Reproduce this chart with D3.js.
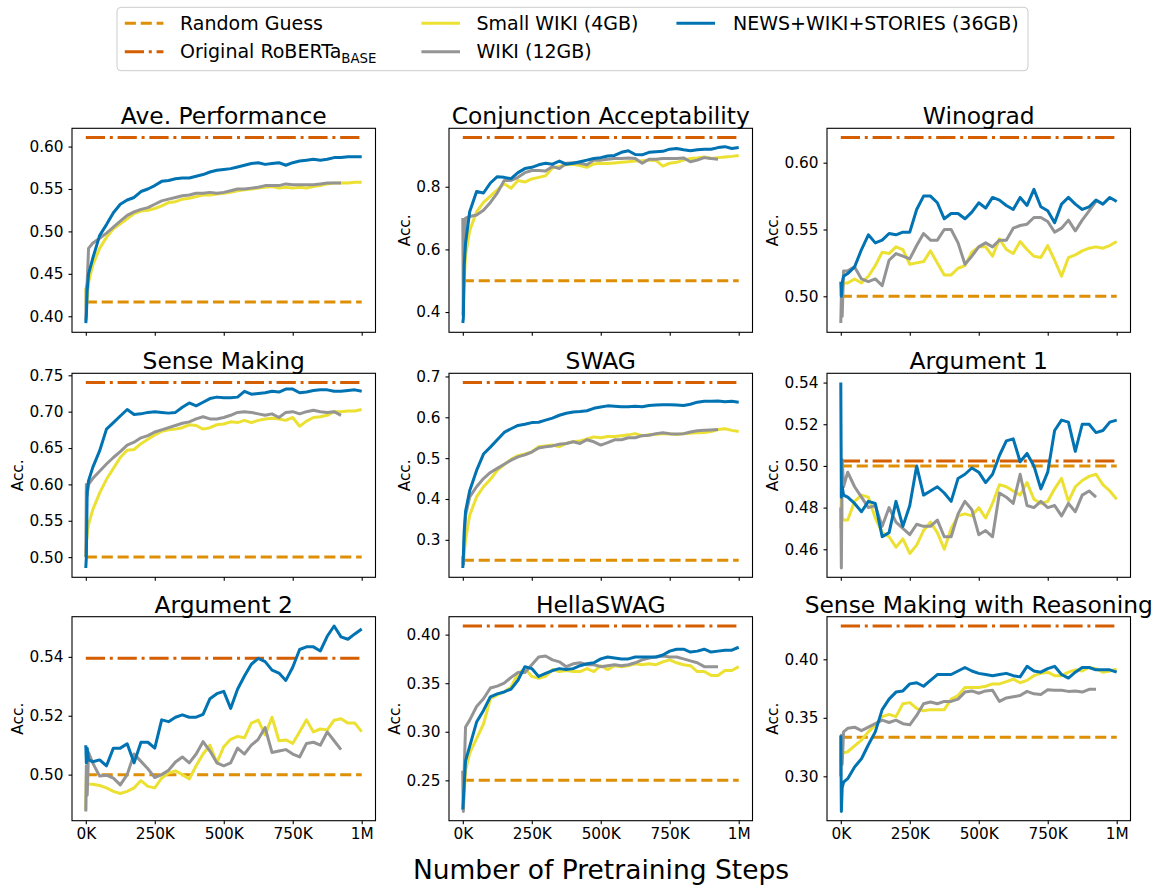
<!DOCTYPE html>
<html>
<head>
<meta charset="utf-8">
<script src="https://cdn.jsdelivr.net/npm/d3@7"></script>
<style>
  body { margin: 0; background: #fff; }
  svg { display: block; font-family: "DejaVu Sans", sans-serif; }
</style>
</head>
<body>
<svg id="chart" width="1159" height="887"></svg>
<script>
// ---------------- DATA ----------------
const stepsFull = [0, 2000, 5000, 10000, 25000, 50000, 75000, 100000, 125000, 150000, 175000, 200000, 225000, 250000, 275000, 300000, 325000, 350000, 375000, 400000, 425000, 450000, 475000, 500000, 525000, 550000, 575000, 600000, 625000, 650000, 675000, 700000, 725000, 750000, 775000, 800000, 825000, 850000, 875000, 900000, 925000, 950000, 975000, 1000000];
const stepsWiki = [0, 2000, 5000, 10000, 25000, 50000, 75000, 100000, 125000, 150000, 175000, 200000, 225000, 250000, 275000, 300000, 325000, 350000, 375000, 400000, 425000, 450000, 475000, 500000, 525000, 550000, 575000, 600000, 625000, 650000, 675000, 700000, 725000, 750000, 775000, 800000, 825000, 850000, 875000, 900000, 925000];

const xTickValues = [0, 250000, 500000, 750000, 1000000];
const xTickLabels = ["0K", "250K", "500K", "750K", "1M"];

const panelTitles = ["Ave. Performance", "Conjunction Acceptability", "Winograd", "Sense Making", "SWAG", "Argument 1", "Argument 2", "HellaSWAG", "Sense Making with Reasoning"];
const originalRoberta = [0.6106, 0.957, 0.6188, 0.740, 0.685, 0.5024, 0.5395, 0.4089, 0.4285];
const randomGuess = [0.4167, 0.5, 0.5, 0.5, 0.25, 0.5, 0.5, 0.25, 0.3333];

const yTicksAve = [0.40, 0.45, 0.50, 0.55, 0.60];
const yTicksConj = [0.4, 0.6, 0.8];
const yTicksWino = [0.50, 0.55, 0.60];
const yTicksSM = [0.50, 0.55, 0.60, 0.65, 0.70, 0.75];
const yTicksSwag = [0.3, 0.4, 0.5, 0.6, 0.7];
const yTicksArg1 = [0.46, 0.48, 0.50, 0.52, 0.54];
const yTicksArg2 = [0.50, 0.52, 0.54];
const yTicksHella = [0.25, 0.30, 0.35, 0.40];
const yTicksSMR = [0.30, 0.35, 0.40];
const yTickFormats = [".2f", ".1f", ".2f", ".2f", ".1f", ".2f", ".2f", ".2f", ".2f"];

// Ave. Performance
const aveNews = [0.392, 0.40, 0.43, 0.45, 0.468, 0.495, 0.508, 0.522, 0.532, 0.537, 0.540, 0.547, 0.550, 0.554, 0.559, 0.560, 0.562, 0.563, 0.563, 0.565, 0.567, 0.570, 0.572, 0.573, 0.574, 0.576, 0.578, 0.580, 0.581, 0.579, 0.580, 0.581, 0.578, 0.581, 0.583, 0.584, 0.585, 0.584, 0.585, 0.587, 0.587, 0.588, 0.588, 0.588];
const aveSmall = [0.433, 0.41, 0.42, 0.44, 0.46, 0.48, 0.493, 0.503, 0.509, 0.515, 0.521, 0.524, 0.525, 0.527, 0.530, 0.534, 0.535, 0.538, 0.539, 0.541, 0.543, 0.543, 0.544, 0.545, 0.546, 0.548, 0.549, 0.550, 0.551, 0.552, 0.553, 0.551, 0.552, 0.551, 0.552, 0.551, 0.553, 0.554, 0.556, 0.557, 0.557, 0.557, 0.558, 0.558];
const aveWiki = [0.395, 0.433, 0.44, 0.48, 0.486, 0.492, 0.498, 0.505, 0.512, 0.519, 0.523, 0.526, 0.528, 0.532, 0.536, 0.538, 0.540, 0.542, 0.543, 0.545, 0.545, 0.546, 0.545, 0.546, 0.548, 0.550, 0.550, 0.551, 0.552, 0.554, 0.554, 0.554, 0.556, 0.555, 0.555, 0.555, 0.555, 0.556, 0.557, 0.557, 0.557];

// Conjunction Acceptability
const conjNews = [0.365, 0.38, 0.55, 0.62, 0.72, 0.785, 0.78, 0.812, 0.832, 0.83, 0.826, 0.845, 0.858, 0.862, 0.87, 0.875, 0.872, 0.882, 0.872, 0.875, 0.88, 0.885, 0.89, 0.893, 0.898, 0.90, 0.91, 0.915, 0.903, 0.902, 0.91, 0.912, 0.913, 0.92, 0.922, 0.918, 0.915, 0.918, 0.92, 0.92, 0.925, 0.928, 0.922, 0.925];
const conjSmall = [0.39, 0.45, 0.5, 0.58, 0.66, 0.72, 0.75, 0.77, 0.79, 0.81, 0.795, 0.82, 0.815, 0.825, 0.83, 0.835, 0.86, 0.865, 0.87, 0.872, 0.868, 0.862, 0.873, 0.875, 0.874, 0.876, 0.878, 0.88, 0.882, 0.883, 0.885, 0.884, 0.866, 0.875, 0.878, 0.885, 0.89, 0.892, 0.895, 0.89, 0.893, 0.895, 0.897, 0.90];
const conjWiki = [0.70, 0.39, 0.60, 0.70, 0.705, 0.71, 0.725, 0.75, 0.78, 0.82, 0.82, 0.83, 0.845, 0.852, 0.852, 0.85, 0.865, 0.858, 0.875, 0.877, 0.875, 0.87, 0.885, 0.885, 0.888, 0.89, 0.89, 0.892, 0.89, 0.875, 0.888, 0.888, 0.89, 0.89, 0.89, 0.892, 0.88, 0.885, 0.893, 0.89, 0.888];

// Winograd
const winoNews = [0.511, 0.50, 0.51, 0.515, 0.517, 0.522, 0.535, 0.546, 0.54, 0.542, 0.547, 0.546, 0.548, 0.548, 0.565, 0.575, 0.575, 0.57, 0.558, 0.562, 0.562, 0.558, 0.563, 0.57, 0.566, 0.574, 0.572, 0.568, 0.565, 0.574, 0.568, 0.58, 0.567, 0.564, 0.555, 0.569, 0.574, 0.569, 0.565, 0.567, 0.572, 0.569, 0.574, 0.571];
const winoSmall = [0.50, 0.505, 0.505, 0.51, 0.51, 0.513, 0.51, 0.515, 0.523, 0.533, 0.532, 0.537, 0.535, 0.524, 0.525, 0.526, 0.534, 0.525, 0.516, 0.516, 0.521, 0.523, 0.533, 0.537, 0.537, 0.53, 0.543, 0.535, 0.532, 0.541, 0.535, 0.53, 0.529, 0.538, 0.527, 0.515, 0.529, 0.531, 0.534, 0.536, 0.537, 0.536, 0.538, 0.541];
const winoWiki = [0.48, 0.50, 0.485, 0.519, 0.519, 0.522, 0.513, 0.511, 0.513, 0.508, 0.527, 0.532, 0.53, 0.528, 0.538, 0.547, 0.542, 0.542, 0.55, 0.55, 0.54, 0.524, 0.53, 0.537, 0.54, 0.537, 0.542, 0.542, 0.551, 0.553, 0.554, 0.559, 0.559, 0.556, 0.548, 0.551, 0.557, 0.549, 0.557, 0.564, 0.571];

// Sense Making
const smNews = [0.485, 0.50, 0.59, 0.605, 0.623, 0.646, 0.676, 0.685, 0.694, 0.703, 0.696, 0.697, 0.699, 0.70, 0.699, 0.698, 0.699, 0.706, 0.712, 0.708, 0.713, 0.718, 0.72, 0.719, 0.719, 0.72, 0.728, 0.724, 0.725, 0.726, 0.728, 0.727, 0.731, 0.731, 0.726, 0.727, 0.729, 0.730, 0.730, 0.728, 0.728, 0.729, 0.730, 0.728];
const smSmall = [0.50, 0.52, 0.53, 0.545, 0.565, 0.588, 0.607, 0.622, 0.637, 0.647, 0.648, 0.656, 0.662, 0.668, 0.673, 0.675, 0.676, 0.678, 0.682, 0.681, 0.676, 0.678, 0.682, 0.683, 0.686, 0.685, 0.688, 0.685, 0.688, 0.69, 0.691, 0.69, 0.688, 0.692, 0.68, 0.687, 0.692, 0.693, 0.695, 0.700, 0.700, 0.701, 0.701, 0.703];
const smWiki = [0.50, 0.60, 0.585, 0.60, 0.608, 0.618, 0.628, 0.637, 0.645, 0.654, 0.658, 0.664, 0.667, 0.672, 0.675, 0.678, 0.681, 0.684, 0.686, 0.69, 0.693, 0.69, 0.69, 0.692, 0.695, 0.699, 0.70, 0.699, 0.697, 0.695, 0.697, 0.692, 0.699, 0.70, 0.697, 0.70, 0.702, 0.70, 0.699, 0.70, 0.695];

// SWAG
const swagNews = [0.231, 0.26, 0.32, 0.37, 0.42, 0.47, 0.51, 0.527, 0.545, 0.563, 0.572, 0.58, 0.583, 0.587, 0.588, 0.593, 0.598, 0.605, 0.61, 0.613, 0.614, 0.616, 0.622, 0.625, 0.628, 0.627, 0.626, 0.626, 0.627, 0.626, 0.629, 0.63, 0.631, 0.631, 0.63, 0.629, 0.632, 0.637, 0.639, 0.639, 0.64, 0.638, 0.639, 0.637];
const swagSmall = [0.24, 0.25, 0.27, 0.30, 0.36, 0.405, 0.43, 0.448, 0.47, 0.484, 0.497, 0.506, 0.51, 0.515, 0.528, 0.53, 0.532, 0.528, 0.536, 0.54, 0.542, 0.547, 0.552, 0.55, 0.553, 0.553, 0.555, 0.557, 0.56, 0.555, 0.557, 0.558, 0.56, 0.559, 0.558, 0.56, 0.561, 0.562, 0.563, 0.565, 0.57, 0.572, 0.568, 0.565];
const swagWiki = [0.26, 0.24, 0.30, 0.36, 0.405, 0.43, 0.45, 0.465, 0.475, 0.485, 0.495, 0.503, 0.508, 0.515, 0.525, 0.528, 0.53, 0.534, 0.536, 0.54, 0.536, 0.545, 0.54, 0.532, 0.538, 0.545, 0.545, 0.55, 0.55, 0.555, 0.556, 0.56, 0.562, 0.56, 0.559, 0.56, 0.564, 0.567, 0.568, 0.569, 0.57];

// Argument 1
const arg1News = [0.54, 0.485, 0.49, 0.486, 0.485, 0.482, 0.478, 0.483, 0.482, 0.466, 0.468, 0.483, 0.471, 0.481, 0.50, 0.486, 0.488, 0.49, 0.487, 0.483, 0.494, 0.496, 0.499, 0.497, 0.492, 0.496, 0.505, 0.512, 0.513, 0.502, 0.506, 0.50, 0.489, 0.497, 0.517, 0.522, 0.521, 0.507, 0.52, 0.52, 0.516, 0.517, 0.521, 0.522];
const arg1Small = [0.47, 0.49, 0.475, 0.474, 0.474, 0.483, 0.486, 0.485, 0.475, 0.468, 0.466, 0.461, 0.465, 0.458, 0.462, 0.469, 0.473, 0.468, 0.46, 0.47, 0.476, 0.477, 0.476, 0.48, 0.475, 0.482, 0.491, 0.49, 0.488, 0.486, 0.492, 0.484, 0.482, 0.483, 0.489, 0.494, 0.483, 0.49, 0.493, 0.495, 0.496, 0.491, 0.488, 0.484];
const arg1Wiki = [0.48, 0.451, 0.503, 0.49, 0.497, 0.49, 0.485, 0.48, 0.481, 0.471, 0.48, 0.473, 0.47, 0.467, 0.472, 0.471, 0.471, 0.474, 0.466, 0.466, 0.477, 0.483, 0.479, 0.467, 0.469, 0.466, 0.487, 0.485, 0.482, 0.496, 0.481, 0.48, 0.483, 0.48, 0.481, 0.476, 0.482, 0.478, 0.486, 0.488, 0.485];

// Argument 2
const arg2News = [0.51, 0.504, 0.509, 0.505, 0.5044, 0.505, 0.503, 0.509, 0.509, 0.5105, 0.504, 0.511, 0.511, 0.509, 0.5186, 0.518, 0.5195, 0.5203, 0.5195, 0.5195, 0.5205, 0.5258, 0.5275, 0.5283, 0.5225, 0.529, 0.5335, 0.5375, 0.5395, 0.5384, 0.5355, 0.5345, 0.532, 0.5365, 0.5425, 0.5434, 0.5434, 0.542, 0.547, 0.5505, 0.5468, 0.546, 0.5478, 0.5495];
const arg2Small = [0.488, 0.50, 0.497, 0.4968, 0.4967, 0.4963, 0.4955, 0.4943, 0.4936, 0.4943, 0.4955, 0.498, 0.496, 0.4955, 0.4988, 0.5005, 0.5013, 0.500, 0.4985, 0.503, 0.507, 0.510, 0.504, 0.5095, 0.512, 0.513, 0.5125, 0.5175, 0.5185, 0.5135, 0.5195, 0.5115, 0.5118, 0.5106, 0.5146, 0.5186, 0.5145, 0.5155, 0.5152, 0.5185, 0.519, 0.5175, 0.5175, 0.5146];
const arg2Wiki = [0.4875, 0.503, 0.493, 0.5075, 0.504, 0.4995, 0.4998, 0.4988, 0.4965, 0.500, 0.507, 0.5045, 0.502, 0.499, 0.500, 0.5015, 0.5043, 0.506, 0.504, 0.507, 0.5112, 0.508, 0.504, 0.503, 0.504, 0.509, 0.507, 0.510, 0.512, 0.516, 0.5075, 0.508, 0.5085, 0.507, 0.506, 0.5106, 0.511, 0.510, 0.5145, 0.5115, 0.5085];

// HellaSWAG
const hellaNews = [0.22, 0.23, 0.245, 0.27, 0.285, 0.31, 0.322, 0.336, 0.339, 0.341, 0.344, 0.353, 0.367, 0.365, 0.357, 0.36, 0.363, 0.365, 0.364, 0.365, 0.368, 0.370, 0.371, 0.375, 0.377, 0.376, 0.375, 0.375, 0.377, 0.377, 0.377, 0.377, 0.379, 0.383, 0.385, 0.385, 0.382, 0.383, 0.385, 0.382, 0.383, 0.384, 0.384, 0.387];
const hellaSmall = [0.26, 0.22, 0.235, 0.26, 0.278, 0.293, 0.308, 0.334, 0.338, 0.341, 0.346, 0.36, 0.365, 0.357, 0.355, 0.357, 0.364, 0.362, 0.363, 0.362, 0.362, 0.365, 0.362, 0.368, 0.364, 0.368, 0.367, 0.368, 0.37, 0.369, 0.37, 0.369, 0.372, 0.374, 0.371, 0.369, 0.368, 0.362, 0.362, 0.358, 0.358, 0.363, 0.363, 0.367];
const hellaWiki = [0.26, 0.218, 0.26, 0.305, 0.312, 0.326, 0.334, 0.345, 0.347, 0.35, 0.356, 0.361, 0.361, 0.369, 0.377, 0.378, 0.374, 0.372, 0.367, 0.37, 0.371, 0.369, 0.369, 0.367, 0.368, 0.369, 0.368, 0.369, 0.371, 0.374, 0.376, 0.377, 0.378, 0.377, 0.377, 0.375, 0.373, 0.371, 0.367, 0.367, 0.367];

// Sense Making with Reasoning
const smrNews = [0.335, 0.27, 0.29, 0.295, 0.298, 0.308, 0.315, 0.327, 0.338, 0.357, 0.366, 0.372, 0.373, 0.379, 0.38, 0.377, 0.382, 0.387, 0.387, 0.387, 0.39, 0.393, 0.39, 0.388, 0.387, 0.386, 0.387, 0.388, 0.386, 0.385, 0.394, 0.39, 0.389, 0.392, 0.394, 0.387, 0.384, 0.389, 0.393, 0.393, 0.391, 0.391, 0.391, 0.389];
const smrSmall = [0.31, 0.33, 0.321, 0.32, 0.321, 0.326, 0.331, 0.338, 0.344, 0.351, 0.353, 0.351, 0.362, 0.363, 0.358, 0.356, 0.357, 0.357, 0.357, 0.366, 0.369, 0.376, 0.376, 0.376, 0.377, 0.379, 0.379, 0.381, 0.383, 0.38, 0.382, 0.386, 0.388, 0.389, 0.386, 0.386, 0.389, 0.391, 0.39, 0.393, 0.392, 0.389, 0.390, 0.3915];
const smrWiki = [0.30, 0.335, 0.31, 0.338, 0.341, 0.342, 0.339, 0.342, 0.345, 0.348, 0.346, 0.348, 0.345, 0.344, 0.352, 0.362, 0.3635, 0.362, 0.364, 0.364, 0.366, 0.372, 0.373, 0.371, 0.373, 0.3735, 0.364, 0.367, 0.368, 0.369, 0.3726, 0.3705, 0.37, 0.374, 0.3735, 0.3735, 0.3726, 0.373, 0.372, 0.3744, 0.3744];

const seriesLabels = ["Random Guess", "Original RoBERTa", "Small WIKI (4GB)", "WIKI (12GB)", "NEWS+WIKI+STORIES (36GB)"];
const yLabelText = "Acc.";
const xAxisTitle = "Number of Pretraining Steps";

// ---------------- STYLE / LAYOUT ----------------
const COLORS = { random: "#de8f05", original: "#d55e00", small: "#ece133", wiki: "#949494", news: "#0173b2" };
const LW = 3;
const dashRandom = [3.7 * LW, 1.6 * LW].join(",");
const dashOrig = [6.4 * LW, 1.6 * LW, 1 * LW, 1.6 * LW].join(",");

const colLeft = [72, 449, 827];
const rowTop = [128.3, 373.3, 616.7];
const PW = 303.5, PH = 204;
const tickFont = 15.3, titleFont = 23.4;

const svg = d3.select("#chart");
svg.append("rect").attr("width", 1159).attr("height", 887).attr("fill", "#fff");

const panels = [
  { news: aveNews, small: aveSmall, wiki: aveWiki, yt: yTicksAve, ylab: false },
  { news: conjNews, small: conjSmall, wiki: conjWiki, yt: yTicksConj, ylab: true },
  { news: winoNews, small: winoSmall, wiki: winoWiki, yt: yTicksWino, ylab: true },
  { news: smNews, small: smSmall, wiki: smWiki, yt: yTicksSM, ylab: true },
  { news: swagNews, small: swagSmall, wiki: swagWiki, yt: yTicksSwag, ylab: true },
  { news: arg1News, small: arg1Small, wiki: arg1Wiki, yt: yTicksArg1, ylab: true },
  { news: arg2News, small: arg2Small, wiki: arg2Wiki, yt: yTicksArg2, ylab: true },
  { news: hellaNews, small: hellaSmall, wiki: hellaWiki, yt: yTicksHella, ylab: true },
  { news: smrNews, small: smrSmall, wiki: smrWiki, yt: yTicksSMR, ylab: true }
];

panels.forEach((p, i) => {
  const col = i % 3, row = Math.floor(i / 3);
  const left = colLeft[col], top = rowTop[row];
  const g = svg.append("g");

  const x = d3.scaleLinear().domain([-50000, 1050000]).range([left, left + PW]);
  const allVals = p.news.concat(p.small, p.wiki, [originalRoberta[i], randomGuess[i]]);
  const [mn, mx] = d3.extent(allVals);
  const pad = (mx - mn) * 0.05;
  const y = d3.scaleLinear().domain([mn - pad, mx + pad]).range([top + PH, top]);

  const line = d3.line().x(d => x(d[0])).y(d => y(d[1]));

  // reference lines
  g.append("path")
    .attr("d", line([[0, randomGuess[i]], [1000000, randomGuess[i]]]))
    .attr("fill", "none").attr("stroke", COLORS.random).attr("stroke-width", LW)
    .attr("stroke-dasharray", dashRandom);
  g.append("path")
    .attr("d", line([[0, originalRoberta[i]], [1000000, originalRoberta[i]]]))
    .attr("fill", "none").attr("stroke", COLORS.original).attr("stroke-width", LW)
    .attr("stroke-dasharray", dashOrig);

  // series
  const series = [
    { vals: p.small, steps: stepsFull, c: COLORS.small },
    { vals: p.wiki, steps: stepsWiki, c: COLORS.wiki },
    { vals: p.news, steps: stepsFull, c: COLORS.news }
  ];
  series.forEach(s => {
    g.append("path")
      .attr("d", line(s.steps.map((st, j) => [st, s.vals[j]])))
      .attr("fill", "none").attr("stroke", s.c).attr("stroke-width", LW)
      .attr("stroke-linejoin", "round").attr("stroke-linecap", "butt");
  });

  // frame
  g.append("rect").attr("x", left).attr("y", top).attr("width", PW).attr("height", PH)
    .attr("fill", "none").attr("stroke", "#000").attr("stroke-width", 1.1);

  // y axis
  const ya = g.append("g").attr("transform", `translate(${left},0)`)
    .call(d3.axisLeft(y).tickValues(p.yt).tickFormat(d3.format(yTickFormats[i]))
      .tickSize(3.5).tickSizeOuter(0).tickPadding(5));
  ya.select(".domain").remove();
  ya.selectAll("line").attr("stroke", "#000").attr("stroke-width", 1.1);
  ya.selectAll("text").attr("font-size", tickFont).attr("fill", "#000")
    .attr("font-family", "DejaVu Sans");

  // x axis
  const xa = g.append("g").attr("transform", `translate(0,${top + PH})`)
    .call(d3.axisBottom(x).tickValues(xTickValues)
      .tickFormat((d, k) => row === 2 ? xTickLabels[k] : "")
      .tickSize(3.5).tickSizeOuter(0).tickPadding(4));
  xa.select(".domain").remove();
  xa.selectAll("line").attr("stroke", "#000").attr("stroke-width", 1.1);
  xa.selectAll("text").attr("font-size", tickFont).attr("fill", "#000")
    .attr("font-family", "DejaVu Sans");

  // y label
  if (p.ylab) {
    let maxW = 0;
    ya.selectAll("text").each(function () { maxW = Math.max(maxW, this.getComputedTextLength()); });
    const bx = left - 3.5 - 5 - maxW - 6.5;
    g.append("text")
      .attr("transform", `translate(${bx},${top + PH / 2}) rotate(-90)`)
      .attr("text-anchor", "middle").attr("font-size", tickFont).attr("fill", "#000")
      .text(yLabelText);
  }

  // title
  g.append("text").attr("x", left + PW / 2).attr("y", top - 4)
    .attr("text-anchor", "middle").attr("font-size", titleFont).attr("fill", "#000")
    .text(panelTitles[i]);
});

// x axis title
svg.append("text").attr("x", 601).attr("y", 879)
  .attr("text-anchor", "middle").attr("font-size", 26.5).attr("fill", "#000")
  .text(xAxisTitle);

// ---------------- LEGEND ----------------
const lg = svg.append("g");
lg.append("rect").attr("x", 117).attr("y", 7.3).attr("width", 911).attr("height", 63.4)
  .attr("rx", 4).attr("fill", "#fff").attr("stroke", "#cccccc").attr("stroke-width", 1);

const legendItems = [
  { label: seriesLabels[0], c: COLORS.random, dash: dashRandom, hx: 124.8, tx: 180, hy: 23.3, ty: 30, sub: null },
  { label: seriesLabels[1], c: COLORS.original, dash: dashOrig, hx: 124.8, tx: 180, hy: 51.7, ty: 58.3, sub: "BASE" },
  { label: seriesLabels[2], c: COLORS.small, dash: null, hx: 421.4, tx: 476.5, hy: 23.3, ty: 30, sub: null },
  { label: seriesLabels[3], c: COLORS.wiki, dash: null, hx: 421.4, tx: 476.5, hy: 51.7, ty: 58.3, sub: null },
  { label: seriesLabels[4], c: COLORS.news, dash: null, hx: 676.4, tx: 733, hy: 23.3, ty: 30, sub: null }
];
legendItems.forEach(it => {
  const l = lg.append("line").attr("x1", it.hx).attr("x2", it.hx + 38.6)
    .attr("y1", it.hy).attr("y2", it.hy)
    .attr("stroke", it.c).attr("stroke-width", LW);
  if (it.dash) l.attr("stroke-dasharray", it.dash);
  const t = lg.append("text").attr("x", it.tx).attr("y", it.ty)
    .attr("font-size", 19).attr("fill", "#000").text(it.label);
  if (it.sub) {
    t.append("tspan").attr("dy", 4.5).attr("font-size", 13.3).text(it.sub);
  }
});
</script>
</body>
</html>
